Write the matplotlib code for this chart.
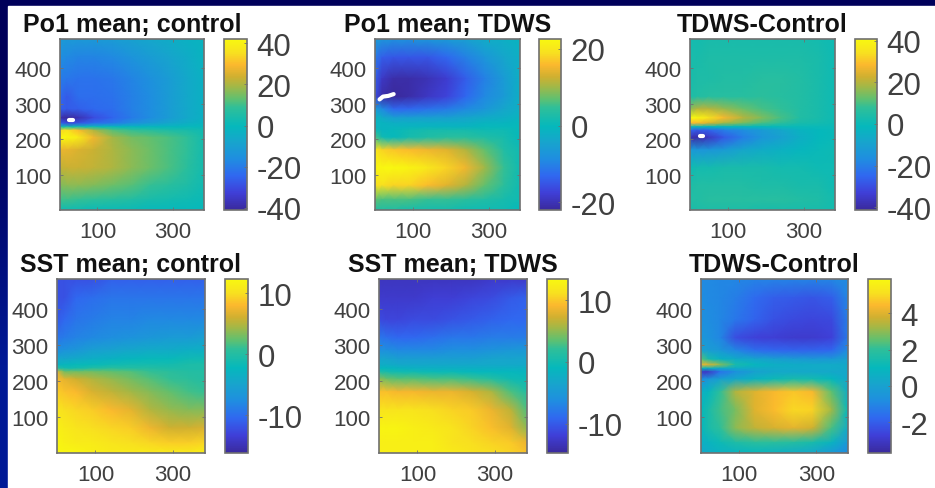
import numpy as np
import matplotlib
matplotlib.use('Agg')
import matplotlib.pyplot as plt
from matplotlib.colors import LinearSegmentedColormap
from matplotlib.patches import Rectangle

plt.rcParams['font.family'] = ['Liberation Sans', 'DejaVu Sans']
plt.rcParams['axes.unicode_minus'] = False

W, H = 935, 489

# grid the fields were read on (top row first)
xs = [1, 20, 50, 90, 140, 190, 240, 290, 340, 382]
ys = [482, 430, 370, 320, 285, 260, 245, 235, 225, 205, 170, 120, 70, 30, 1]

po1_control = [
    [-12, -12, -12, -12, -11, -9, -7, -5, -3, -2],
    [-16, -17, -18, -18, -17, -14, -11, -8, -5, -2],
    [-20, -21, -22, -22, -21, -18, -15, -11, -6, -3],
    [-24, -27, -23, -23, -22, -19, -16, -11, -6, -3],
    [-26, -27, -26, -24, -23, -19, -16, -11, -6, -3],
    [-38, -41, -38, -30, -25, -20, -16, -11, -6, -3],
    [-25, -30, -28, -23, -20, -15, -11, -7, -4, -2],
    [2, 3, 2, 1, 0, -1, -1, -1, 0, 0],
    [34, 36, 30, 20, 12, 9, 7, 5, 4, 2],
    [42, 42, 38, 28, 19, 15, 13, 11, 8, 3],
    [27, 27, 25, 23, 20, 17, 14, 11, 8, 3],
    [22, 23, 23, 22, 20, 17, 14, 11, 7, 3],
    [16, 17, 17, 16, 14, 12, 9, 7, 5, 2],
    [10, 10, 9, 8, 7, 6, 4, 3, 2, 1],
    [2, 2, 2, 1, 1, 1, 0, 0, 0, 0],
]
po1_tdws = [
    [-6, -7, -8, -8, -7, -6, -5, -3, -2, -1],
    [-11, -14, -15, -15, -15, -13, -10, -7, -4, -2],
    [-14, -19, -21, -21, -20, -18, -14, -10, -6, -2],
    [-16, -21, -22, -21, -19, -17, -13, -9, -6, -2],
    [-6, -9, -13, -13, -12, -11, -9, -7, -4, -2],
    [-1, -3, -5, -5, -5, -5, -4, -3, -2, -1],
    [-1, -1, -2, -2, -2, -2, -2, -1, -1, 0],
    [-1, -1, -1, -1, -1, -1, -1, 0, 0, 0],
    [1, -1, 0, 1, 2, 2, 2, 1, 1, 0],
    [6, 1, 0, 2, 3, 4, 4, 3, 2, 0],
    [20, 18, 17, 16, 15, 14, 11, 7, 3, 1],
    [22, 22.5, 22.5, 22, 20, 18, 15, 10, 5, 1],
    [19, 19, 18, 18, 16, 14, 11, 7, 4, 1],
    [7, 6, 6, 6, 5, 5, 4, 3, 2, 1],
    [3, 3, 3, 2, 2, 2, 1, 1, 1, 0],
]
po1_diff = [
    [2, 2, 3, 3, 3, 3, 3, 3, 2, 1],
    [3, 3, 4, 4, 4, 4, 4, 4, 3, 1],
    [3, 4, 4, 5, 5, 6, 6, 5, 3, 1],
    [4, 5, 6, 6, 6, 7, 6, 5, 3, 1],
    [16, 20, 20, 17, 13, 10, 8, 5, 3, 1],
    [40, 40, 35, 28, 20, 15, 10, 5, 3, 1],
    [28, 28, 24, 18, 14, 10, 7, 3, 2, 1],
    [0, 0, -1, -2, -2, -1, 0, 0, 0, 0],
    [-25, -28, -26, -20, -16, -12, -8, -3, -1, 0],
    [-38, -40, -36, -28, -20, -14, -10, -5, -1, 0],
    [-12, -14, -14, -12, -8, -6, -4, -2, 0, 1],
    [1, 2, 2, 3, 3, 3, 2, 2, 1, 1],
    [4, 5, 5, 5, 5, 4, 4, 3, 3, 1],
    [5, 5, 6, 6, 6, 6, 6, 5, 4, 2],
    [3, 4, 4, 4, 4, 3, 3, 3, 3, 2],
]
sst_control = [
    [-12, -12, -12, -12, -11, -11, -11, -11, -11, -11],
    [-12, -12, -10.5, -10, -9.5, -9.5, -9.5, -9.5, -9.5, -9.5],
    [-11.5, -10.5, -9.5, -9, -8.5, -8.5, -8, -8, -8, -8],
    [-9.5, -9, -8.5, -8, -7.5, -7, -6.5, -6, -6, -5.5],
    [-7.5, -7, -6.5, -5.5, -5, -4.5, -4, -4, -3.5, -3.5],
    [-4.5, -4.5, -4, -3.5, -3, -2.5, -2, -2, -1.5, -1.5],
    [-3, -2.5, -2, -2, -1.5, -1, -1, -1, -0.5, -0.5],
    [0.5, -1, -1, 0, 0.5, 0, 0, -0.5, -0.5, -0.5],
    [7, 3, 3, 3, 2.5, 2, 1, 0.5, 0, 0],
    [8, 7, 6, 5, 4, 3, 2, 1, 0.5, 0],
    [9, 8.5, 8, 6.5, 5.5, 4.5, 3.5, 2.5, 1.5, 1],
    [10.5, 10, 9.5, 9, 8, 7, 5, 4, 3.5, 3.5],
    [11.5, 11, 10.5, 10, 9.5, 9, 7.5, 6, 6, 6.5],
    [12, 11.5, 11, 11, 10.5, 10, 9.5, 9, 9, 9.5],
    [12.3, 12, 12, 11.5, 11, 11, 11, 11, 11, 11.5],
]
sst_tdws = [
    [-13, -13, -13, -13, -13, -13, -13, -12.5, -12.5, -12.5],
    [-12.5, -12.5, -12.5, -12.5, -12, -12, -11.5, -11, -10, -9.5],
    [-11, -11.5, -11.5, -11, -11, -10.5, -10, -9.5, -9, -9],
    [-8, -8.5, -9, -9, -8.5, -8, -8, -7.5, -7.5, -7.5],
    [-6, -6, -6.5, -6.5, -6.5, -6, -6, -5.5, -5, -5],
    [-3.5, -3.5, -4, -4, -4, -4, -4, -3.5, -3.5, -3.5],
    [-2.5, -2.5, -3, -3, -3, -3, -3, -3, -3, -3],
    [-1, -1, -1.5, -2, -2, -2, -2, -2, -2, -2],
    [1, 0.5, 0, 0, -0.5, -0.5, -1, -1, -1, -1.5],
    [5, 4, 3.5, 3.5, 3, 3, 2.5, 1.5, 0, -0.5],
    [9.5, 9.5, 9, 9, 8.5, 8.5, 7.5, 6, 3, 1],
    [11.5, 11.5, 11.5, 11.5, 11, 10.5, 10, 8.5, 6.5, 3],
    [13, 13, 13, 12.5, 12, 11.5, 10.5, 9.5, 8, 5],
    [12.5, 12.5, 12.5, 12.5, 12.5, 11.5, 11, 10.5, 10, 8.5],
    [12.5, 12.5, 12.5, 12.5, 12.5, 12, 11.5, 11, 10.5, 9.5],
]
sst_diff = [
    [-0.9, -0.9, -1, -1, -1.1, -1.1, -1.1, -1.1, -1, -0.8],
    [-0.8, -0.9, -1, -1.2, -1.7, -2, -2.1, -2.2, -2, -1],
    [-0.7, -0.8, -1, -1.4, -1.9, -2.3, -2.5, -2.6, -2.5, -1.2],
    [-0.5, -0.6, -1, -2.4, -2.7, -2.8, -2.9, -2.9, -2.7, -1.3],
    [0, -0.2, -0.4, -1, -1.6, -1.8, -1.9, -1.9, -1.8, -0.8],
    [2.5, 1.5, 0.8, 0.5, 0.2, 0, -0.2, -0.3, -0.3, 0],
    [4.2, 4, 3, 1.5, 0.9, 0.6, 0.5, 0.4, 0.4, 0.3],
    [1, 0.8, 0.5, 0.5, 0.4, 0.4, 0.4, 0.4, 0.4, 0.3],
    [-3, -3, -1.5, -0.7, 0, 0.3, 0.3, 0.3, 0.3, 0.2],
    [-0.8, -0.5, 0, 0.3, 0.8, 1.2, 1.5, 1.4, 1, 0.2],
    [0.6, 0.9, 2, 3.4, 4, 4.4, 4.7, 4.4, 2.5, 0.5],
    [1, 1.5, 2.2, 2.8, 4, 4.5, 5, 4.9, 3.2, 1],
    [0.9, 1.5, 2, 3, 3.6, 3.9, 4.1, 3.8, 2.3, 0.4],
    [0.6, 0.8, 1.2, 1.6, 1.9, 1.9, 1.8, 1.5, 0.8, -0.4],
    [0.3, 0.5, 0.7, 0.8, 0.9, 0.7, 0.5, 0.2, -0.4, -0.9],
]

titles = ['Po1 mean; control', 'Po1 mean; TDWS', 'TDWS-Control',
          'SST mean; control', 'SST mean; TDWS', 'TDWS-Control']
fields = [po1_control, po1_tdws, po1_diff, sst_control, sst_tdws, sst_diff]
clims = [(-41, 42), (-22, 22.6), (-41.3, 40.8), (-16.2, 12.3), (-14.7, 13.4), (-3.7, 5.9)]
cbar_ticks = [[-40, -20, 0, 20, 40], [-20, 0, 20], [-40, -20, 0, 20, 40],
              [-10, 0, 10], [-10, 0, 10], [-2, 0, 2, 4]]
x_ticks = [100, 300]
y_ticks = [100, 200, 300, 400]

# blanked patches in the fields, drawn white
hole_x = [[26, 36], [13, 22, 36, 50], [26, 36], [], [], []]
hole_y = [[255, 255], [312, 320, 322, 327], [210, 210], [], [], []]

# left, right, top, bottom in pixels: axes then colourbar
ax_boxes = [(60, 204, 40, 211), (375, 520, 40, 211), (690, 835, 40, 211),
            (57, 205, 280, 454), (379, 527, 280, 454), (701, 848, 280, 454)]
cb_boxes = [(224, 247, 40, 211), (539, 561, 40, 211), (855, 877, 40, 211),
            (225, 248, 280, 454), (547, 568, 280, 454), (868, 891, 280, 454)]

parula_stops = [(0, '#3a2a9c'), (0.1, '#3f3fd8'), (0.2, '#3068f0'), (0.3, '#1f8ee0'),
                (0.4, '#17a5cc'), (0.49, '#05b8bc'), (0.6, '#30bf98'), (0.65, '#60c070'),
                (0.72, '#a0b848'), (0.78, '#d0b030'), (0.85, '#fbb82e'), (0.92, '#f8e020'),
                (1, '#f8f810')]
parula = LinearSegmentedColormap.from_list('parula', parula_stops, N=256)

GRAY = '#404040'
EDGE = '#707070'


def box_axes(fig, box):
    l, r, t, b = box
    return fig.add_axes([l / W, 1 - b / H, (r - l) / W, (b - t) / H])


fig = plt.figure(figsize=(W / 100, H / 100), dpi=100)

# slide background: navy gradient with a white panel on it
bg = fig.add_axes([0, 0, 1, 1])
bg.imshow(np.array([[[0, 0, 90]], [[0, 25, 150]]], dtype=np.uint8), aspect='auto',
          interpolation='bilinear', extent=(0, W, H, 0))
bg.add_patch(Rectangle((8, 7), W - 8, H - 7, color='white'))
bg.set_xlim(0, W)
bg.set_ylim(H, 0)
bg.axis('off')

for i in range(6):
    ax = box_axes(fig, ax_boxes[i])
    mesh = ax.pcolormesh(xs, ys, np.array(fields[i]), cmap=parula, shading='gouraud',
                         vmin=clims[i][0], vmax=clims[i][1])
    if hole_x[i]:
        ax.plot(hole_x[i], hole_y[i], color='white', lw=3, solid_capstyle='round')
    ax.set_xlim(1, 382)
    ax.set_ylim(1, 482)
    ax.set_xticks(x_ticks)
    ax.set_yticks(y_ticks)
    ax.tick_params(direction='in', length=2, width=0.6, color=EDGE, top=True, right=True,
                   labelsize=16, labelcolor=GRAY)
    ax.tick_params(axis='x', pad=8)
    ax.tick_params(axis='y', pad=6)
    for s in ax.spines.values():
        s.set_color(EDGE)
        s.set_linewidth(1.2)
    ax.set_title(titles[i], fontsize=18, fontweight='bold', color='#111111', pad=6)

    cax = box_axes(fig, cb_boxes[i])
    cb = fig.colorbar(mesh, cax=cax, ticks=cbar_ticks[i])
    cb.ax.tick_params(direction='in', length=2, width=0.6, color=EDGE,
                      labelsize=22.5, labelcolor=GRAY, pad=7)
    cb.outline.set_edgecolor(EDGE)
    cb.outline.set_linewidth(1.2)

fig.savefig('out.png', dpi=100)
